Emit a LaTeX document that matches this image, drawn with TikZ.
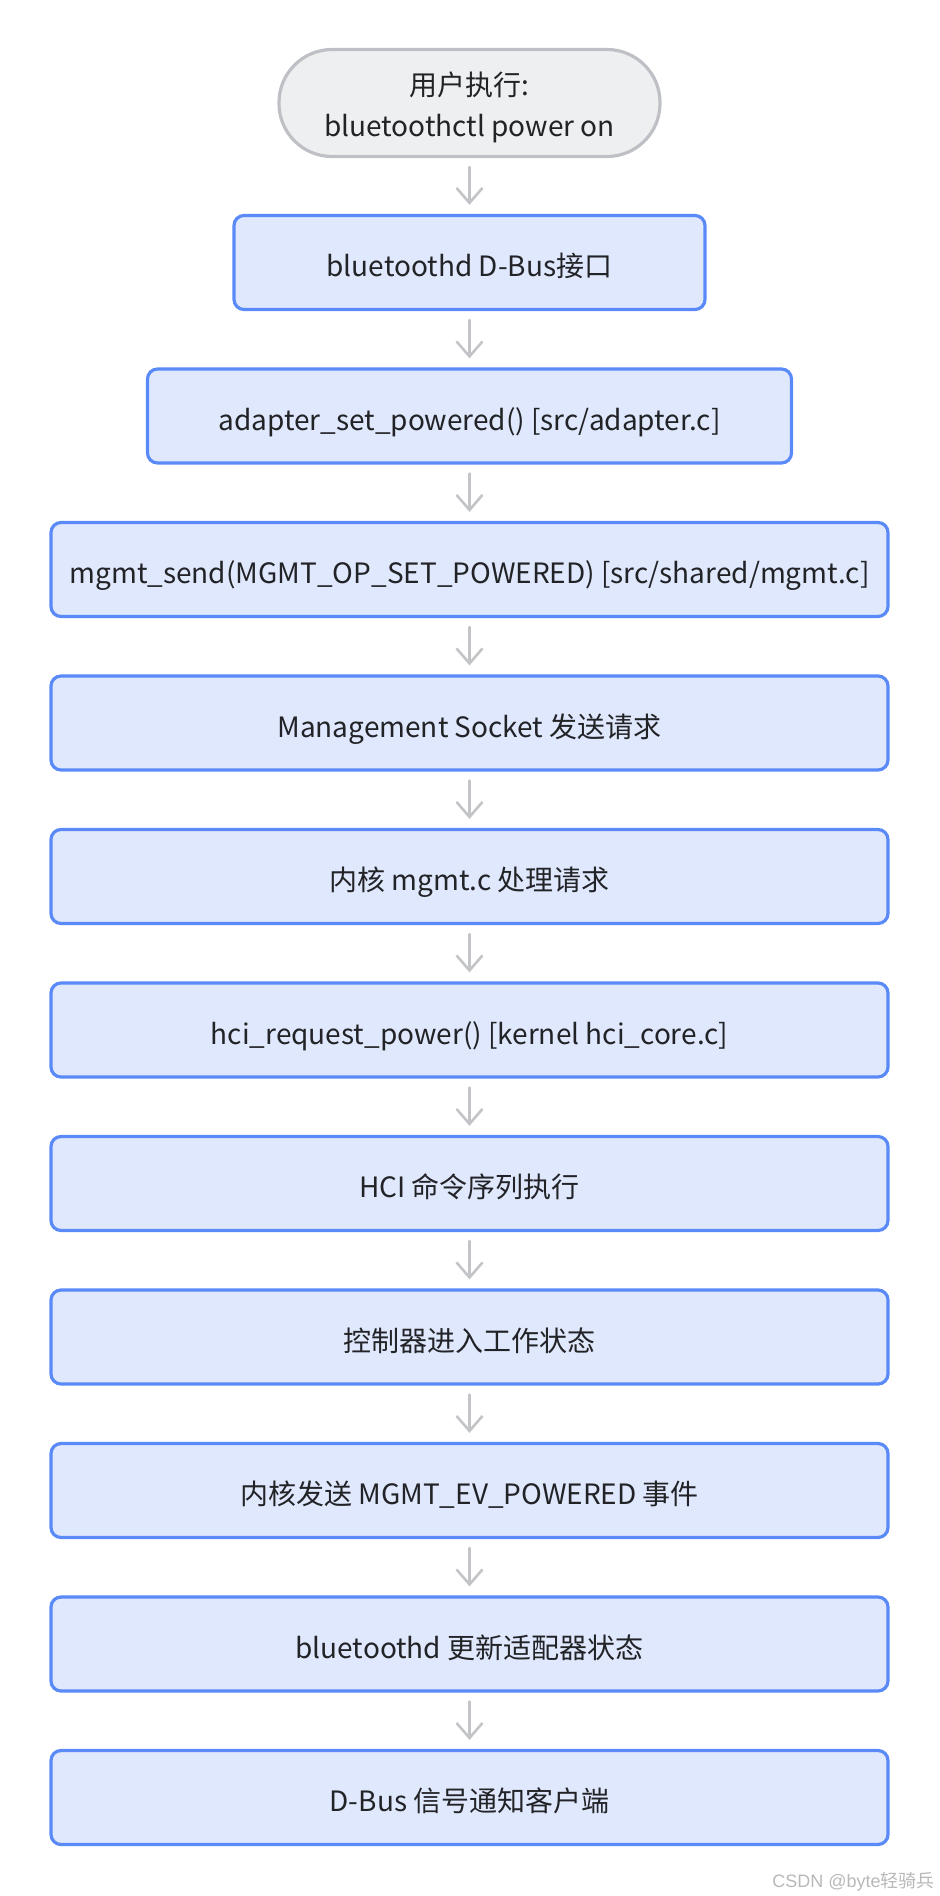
\documentclass[tikz,border=0pt]{standalone}
\usepackage{fontspec}
\setmainfont{Noto Sans CJK SC}
\newfontfamily\wmfont{Liberation Sans}
\usepackage{tikz}
\usetikzlibrary{arrows.meta}
\definecolor{boxfill}{HTML}{E0E8FD}
\definecolor{boxline}{HTML}{5A8AF8}
\definecolor{startfill}{HTML}{EEEFF1}
\definecolor{startline}{HTML}{BEC0C5}
\definecolor{flowgray}{HTML}{C3C4C8}
\definecolor{txt}{HTML}{222326}
\definecolor{wmgray}{HTML}{B8B8B8}

\begin{document}
\begin{tikzpicture}[x=0.5pt,y=-0.5pt,line cap=round,line join=round,>={Straight Barb[length=7.5pt,width=13pt]},
box/.style={draw=boxline,fill=boxfill,line width=1.6pt,rounded corners=5pt,minimum height=47pt,text height=14.2pt,text depth=0pt,text=txt,font=\fontsize{14}{17}\selectfont},
start/.style={draw=startline,fill=startfill,line width=1.6pt,rounded corners=26.5pt,minimum width=190.5pt,minimum height=53.5pt,align=center,text=txt,font=\fontsize{14}{20.5}\selectfont},
flow/.style={->,draw=flowgray,line width=1.3pt,shorten <=4.5pt,shorten >=4.5pt},
wmtext/.style={text=wmgray,inner sep=0pt,font=\fontsize{9}{10}\selectfont}]
\useasboundingbox (0,0) rectangle (939,1896);
\node[start] (user) at (469.5,103) {\rule{0pt}{16.5pt}用户执行:\\bluetoothctl power on};
\node[box,minimum width=235.5pt] (dbus) at (469.5,262.5) {bluetoothd D-Bus接口};
\node[box,minimum width=322pt] (setpow) at (469.5,416) {adapter\_set\_powered() [src/adapter.c]};
\node[box,minimum width=418.5pt] (send) at (469.5,569.5) {mgmt\_send(MGMT\_OP\_SET\_POWERED) [src/shared/mgmt.c]};
\node[box,minimum width=418.5pt] (sock) at (469.5,723) {Management Socket 发送请求};
\node[box,minimum width=418.5pt] (kmgmt) at (469.5,876.5) {内核 mgmt.c 处理请求};
\node[box,minimum width=418.5pt] (reqpow) at (469.5,1030) {hci\_request\_power() [kernel hci\_core.c]};
\node[box,minimum width=418.5pt] (hcicmd) at (469.5,1183.5) {HCI 命令序列执行};
\node[box,minimum width=418.5pt] (ctrl) at (469.5,1337) {控制器进入工作状态};
\node[box,minimum width=418.5pt] (evt) at (469.5,1490.5) {内核发送 MGMT\_EV\_POWERED 事件};
\node[box,minimum width=418.5pt] (upd) at (469.5,1644) {bluetoothd 更新适配器状态};
\node[box,minimum width=418.5pt] (sig) at (469.5,1797.5) {D-Bus 信号通知客户端};
\draw[flow] (user) -- (dbus);
\draw[flow] (dbus) -- (setpow);
\draw[flow] (setpow) -- (send);
\draw[flow] (send) -- (sock);
\draw[flow] (sock) -- (kmgmt);
\draw[flow] (kmgmt) -- (reqpow);
\draw[flow] (reqpow) -- (hcicmd);
\draw[flow] (hcicmd) -- (ctrl);
\draw[flow] (ctrl) -- (evt);
\draw[flow] (evt) -- (upd);
\draw[flow] (upd) -- (sig);
\node[wmtext,anchor=base east] (wm) at (935,1887) {{\wmfont CSDN @byte}轻骑兵};
\end{tikzpicture}
\end{document}
